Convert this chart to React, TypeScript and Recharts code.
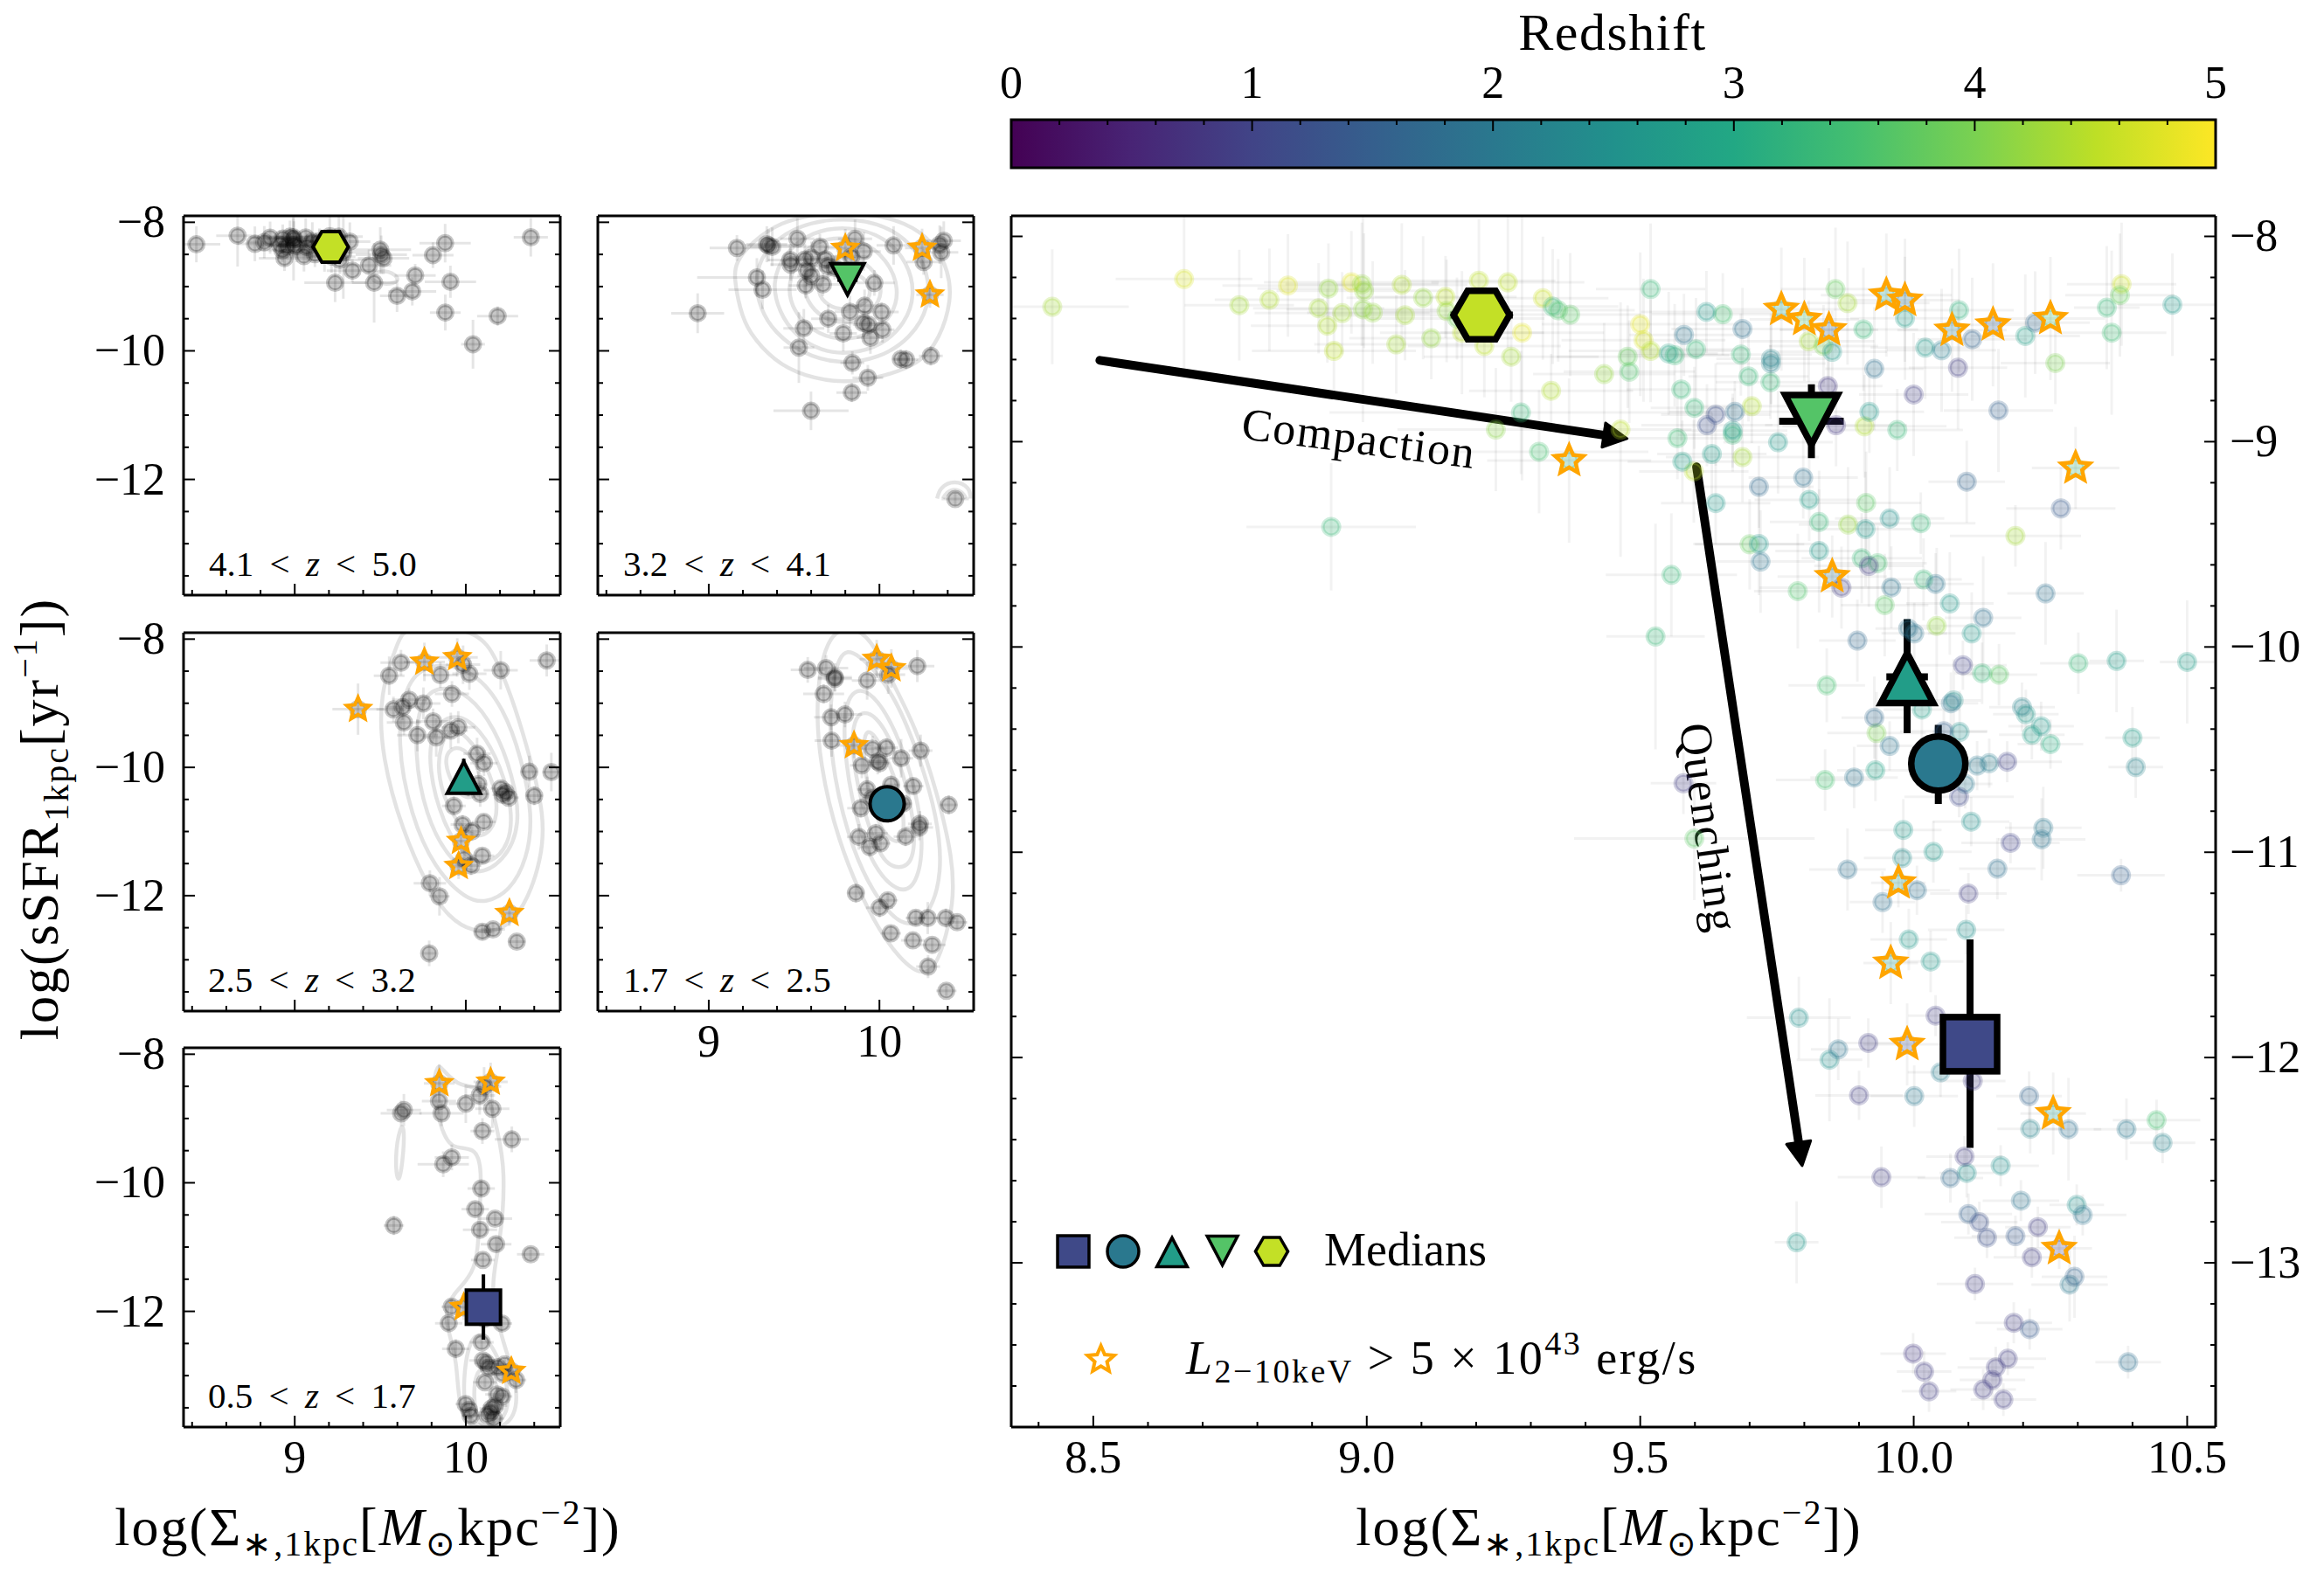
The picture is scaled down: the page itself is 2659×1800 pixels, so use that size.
import { ScatterChart, Scatter, XAxis, YAxis, ErrorBar, ReferenceLine, ReferenceArea } from 'recharts';

const W = 2659;
const H = 1800;
const SERIF = '"Liberation Serif", serif';

// x, y, redshift, x error, y error. One list per redshift bin
const binA = [
  [8.425, -8.343, 4.3, 0.14, 0.28], [8.666, -8.208, 4.7, 0.125, 0.48], [8.767, -8.335, 4.3, 0.1, 0.27],
  [8.822, -8.309, 4.4, 0.1, 0.25], [8.856, -8.239, 4.75, 0.12, 0.25], [8.93, -8.254, 4.2, 0.13, 0.22],
  [8.912, -8.35, 4.3, 0.12, 0.22], [8.928, -8.435, 4.4, 0.14, 0.18], [8.955, -8.374, 4.3, 0.16, 0.2],
  [8.94, -8.558, 4.5, 0.15, 0.2], [8.972, -8.224, 4.8, 0.16, 0.25], [8.991, -8.233, 4.2, 0.14, 0.3],
  [8.995, -8.265, 4.2, 0.16, 0.28], [8.993, -8.355, 4.15, 0.14, 0.55], [9.011, -8.371, 4.2, 0.12, 0.25],
  [9.064, -8.236, 4.4, 0.12, 0.3], [9.07, -8.384, 4.3, 0.16, 0.22], [9.054, -8.526, 4.3, 0.15, 0.24],
  [9.103, -8.299, 4.2, 0.14, 0.3], [9.118, -8.496, 4.2, 0.15, 0.2], [9.144, -8.295, 4.5, 0.13, 0.2],
  [9.146, -8.363, 4.2, 0.12, 0.25], [9.205, -8.216, 4.5, 0.14, 0.3], [9.258, -8.224, 4.5, 0.14, 0.32],
  [9.174, -8.469, 4.5, 0.15, 0.3], [9.215, -8.534, 4.5, 0.14, 0.25], [9.264, -8.586, 4.3, 0.16, 0.22],
  [9.284, -8.469, 4.8, 0.15, 0.72], [9.322, -8.301, 4.6, 0.12, 0.3], [9.337, -8.752, 4.4, 0.15, 0.18],
  [9.236, -8.941, 4.1, 0.18, 0.3], [9.464, -8.941, 4.5, 0.13, 0.62], [9.434, -8.671, 4.2, 0.13, 0.25],
  [9.5, -8.428, 4.8, 0.18, 0.35], [9.506, -8.506, 4.7, 0.15, 0.3], [9.519, -8.558, 4.4, 0.15, 0.25],
  [9.598, -9.145, 4.5, 0.1, 0.25], [9.704, -8.827, 4.4, 0.12, 0.18], [9.687, -9.075, 4.3, 0.14, 0.22],
  [9.808, -8.511, 4.3, 0.12, 0.2], [9.88, -9.404, 4.2, 0.09, 0.28], [9.91, -8.925, 4.4, 0.15, 0.25],
  [9.879, -8.325, 4.3, 0.15, 0.3], [10.042, -9.897, 4.2, 0.07, 0.38], [10.186, -9.459, 4.3, 0.12, 0.15],
  [10.38, -8.233, 4.6, 0.1, 0.3],
];

const binB = [
  [8.935, -9.415, 3.3, 0.155, 0.31], [9.165, -8.4, 3.9, 0.16, 0.2], [9.34, -8.342, 3.3, 0.12, 0.28],
  [9.35, -8.36, 3.6, 0.14, 0.25], [9.372, -8.381, 3.7, 0.13, 0.3], [9.315, -9.049, 3.5, 0.2, 0.3],
  [9.282, -8.858, 3.3, 0.35, 0.3], [9.48, -8.659, 3.6, 0.12, 0.25], [9.477, -8.586, 3.8, 0.13, 0.25],
  [9.519, -8.257, 3.3, 0.1, 0.32], [9.563, -8.579, 3.3, 0.1, 0.25], [9.602, -8.55, 3.3, 0.1, 0.25],
  [9.575, -8.746, 3.3, 0.1, 0.25], [9.599, -8.835, 3.3, 0.08, 0.2], [9.568, -8.983, 3.4, 0.1, 0.2],
  [9.651, -8.379, 3.5, 0.13, 0.2], [9.684, -8.576, 3.3, 0.13, 0.2], [9.698, -8.682, 3.3, 0.11, 0.22],
  [9.738, -8.71, 3.3, 0.1, 0.18], [9.669, -8.966, 3.3, 0.1, 0.18], [9.557, -9.649, 3.3, 0.12, 0.3],
  [9.528, -9.949, 3.3, 0.09, 0.55], [9.788, -9.728, 3.6, 0.08, 0.28], [9.827, -9.391, 3.3, 0.09, 0.25],
  [9.913, -9.298, 3.7, 0.1, 0.25], [9.7, -9.5, 3.8, 0.1, 0.22], [9.905, -9.568, 3.3, 0.11, 0.22],
  [9.934, -9.592, 3.5, 0.09, 0.18], [9.947, -9.796, 3.7, 0.08, 0.25], [10.013, -9.397, 3.3, 0.1, 0.15],
  [10.018, -9.671, 3.3, 0.07, 0.2], [10.125, -10.128, 3.3, 0.05, 0.15], [10.156, -10.135, 3.7, 0.07, 0.15],
  [9.841, -10.187, 3.5, 0.07, 0.18], [10.301, -10.079, 3.3, 0.07, 0.15], [9.932, -10.419, 4.0, 0.09, 0.2],
  [9.838, -10.648, 3.5, 0.09, 0.15], [9.599, -10.933, 3.7, 0.22, 0.3], [10.444, -12.305, 3.5, 0.08, 0.1],
  [9.857, -8.257, 3.8, 0.1, 0.3], [10.083, -8.36, 3.2, 0.1, 0.3], [9.908, -8.453, 3.3, 0.1, 0.3],
  [9.97, -8.943, 3.3, 0.12, 0.2], [10.259, -8.617, 4.0, 0.1, 0.2], [10.353, -8.347, 3.3, 0.06, 0.3],
  [10.377, -8.286, 3.8, 0.1, 0.3], [10.362, -8.469, 3.4, 0.1, 0.4], [9.835, -8.534, 4.0, 0.1, 0.2],
  [9.8, -8.404, 3.6, 0.1, 0.3], [10.25, -8.4, 3.5, 0.1, 0.3], [10.296, -9.128, 3.3, 0.08, 0.2],
];

const binC = [
  [9.621, -8.368, 2.6, 0.12, 0.2], [9.552, -8.57, 2.9, 0.09, 0.3], [9.851, -8.562, 2.6, 0.1, 0.2],
  [10.021, -8.542, 2.6, 0.1, 0.25], [9.984, -8.399, 2.7, 0.1, 0.3], [10.204, -8.485, 2.8, 0.1, 0.3],
  [10.473, -8.333, 2.6, 0.1, 0.25], [9.919, -8.855, 2.6, 0.1, 0.2], [9.669, -8.946, 2.7, 0.1, 0.18],
  [9.631, -9.06, 2.7, 0.1, 0.2], [9.577, -9.097, 2.8, 0.1, 0.2], [9.752, -9.003, 2.6, 0.1, 0.25],
  [9.638, -9.299, 2.6, 0.1, 0.2], [9.809, -9.283, 2.7, 0.1, 0.2], [9.717, -9.498, 2.6, 0.12, 0.25],
  [9.827, -9.532, 2.6, 0.08, 0.3], [9.912, -9.426, 2.6, 0.1, 0.28], [9.956, -9.374, 2.5, 0.1, 0.25],
  [10.066, -9.788, 2.6, 0.08, 0.25], [10.106, -9.934, 2.6, 0.08, 0.2], [10.371, -10.068, 2.7, 0.05, 0.25],
  [10.5, -10.073, 2.7, 0.05, 0.3], [10.4, -10.442, 2.7, 0.05, 0.15], [10.084, -10.414, 2.5, 0.05, 0.2],
  [10.073, -10.26, 2.5, 0.05, 0.2], [10.205, -10.328, 2.6, 0.06, 0.12], [10.216, -10.428, 2.8, 0.06, 0.12],
  [10.233, -10.386, 2.6, 0.06, 0.12], [10.25, -10.473, 3.1, 0.06, 0.12], [9.93, -10.601, 2.9, 0.07, 0.15],
  [9.981, -10.891, 2.6, 0.07, 0.15], [10.105, -10.851, 2.5, 0.07, 0.12], [10.036, -10.998, 2.6, 0.07, 0.15],
  [10.096, -11.378, 2.5, 0.07, 0.12], [10.031, -11.532, 2.6, 0.06, 0.15], [9.991, -11.425, 2.6, 0.07, 0.15],
  [9.79, -11.806, 2.5, 0.095, 0.2], [9.846, -12.011, 2.5, 0.06, 0.3], [10.097, -12.562, 2.5, 0.05, 0.12],
  [10.159, -12.527, 2.5, 0.07, 0.1], [10.298, -12.718, 2.5, 0.05, 0.1], [9.786, -12.9, 2.6, 0.04, 0.2],
  [10.015, -10.305, 2.8, 0.07, 0.15], [9.37, -9.092, 3.0, 0.15, 0.4], [9.758, -8.355, 3.0, 0.12, 0.3],
  [9.95, -8.286, 2.8, 0.12, 0.3], [9.972, -11.149, 2.8, 0.05, 0.12], [9.958, -11.54, 2.8, 0.05, 0.2],
  [10.255, -12.273, 2.8, 0.06, 0.2],
];

const binD = [
  [9.58, -8.48, 1.9, 0.1, 0.2], [9.687, -8.451, 1.8, 0.13, 0.2], [9.739, -8.596, 2.2, 0.1, 0.22],
  [9.739, -8.619, 2.2, 0.1, 0.2], [9.673, -8.855, 1.8, 0.12, 0.15], [9.717, -9.22, 1.7, 0.1, 0.2],
  [9.798, -9.175, 1.8, 0.1, 0.2], [9.72, -9.584, 1.9, 0.1, 0.25], [9.928, -8.645, 1.8, 0.09, 0.3],
  [10.051, -8.555, 2.1, 0.1, 0.3], [10.222, -8.42, 1.7, 0.1, 0.25], [9.959, -9.71, 1.9, 0.08, 0.2],
  [10.04, -9.693, 1.9, 0.07, 0.15], [10.127, -9.858, 1.8, 0.07, 0.3], [10.241, -9.739, 1.8, 0.07, 0.25],
  [9.897, -9.969, 1.7, 0.07, 0.2], [9.99, -9.91, 1.9, 0.06, 0.2], [10.001, -9.934, 1.9, 0.06, 0.15],
  [9.928, -10.344, 1.7, 0.06, 0.2], [10.068, -10.274, 1.9, 0.05, 0.15], [10.198, -10.293, 2.2, 0.06, 0.12],
  [9.891, -10.636, 1.9, 0.08, 0.15], [10.406, -10.585, 2.2, 0.05, 0.15], [10.237, -10.881, 2.0, 0.07, 0.2],
  [10.234, -10.937, 1.9, 0.08, 0.2], [9.879, -11.084, 1.8, 0.07, 0.2], [9.979, -11.028, 2.4, 0.07, 0.15],
  [10.153, -11.08, 1.8, 0.07, 0.15], [10.006, -11.185, 1.8, 0.06, 0.12], [9.943, -11.243, 1.8, 0.06, 0.15],
  [9.956, -10.482, 1.9, 0.06, 0.12], [10.116, -10.578, 2.0, 0.05, 0.12], [10.138, -10.566, 2.1, 0.05, 0.12],
  [10.094, -10.667, 2.0, 0.05, 0.12], [9.862, -11.96, 1.9, 0.05, 0.15], [10.049, -12.072, 2.1, 0.06, 0.12],
  [10.001, -12.188, 2.0, 0.08, 0.15], [10.213, -12.347, 2.2, 0.06, 0.12], [10.283, -12.349, 1.8, 0.06, 0.25],
  [10.389, -12.349, 2.0, 0.06, 0.15], [10.455, -12.415, 2.2, 0.06, 0.1], [10.067, -12.587, 1.7, 0.06, 0.12],
  [10.196, -12.697, 1.9, 0.07, 0.1], [10.309, -12.767, 1.9, 0.08, 0.1], [10.285, -13.106, 2.0, 0.07, 0.18],
  [10.392, -13.484, 1.8, 0.06, 0.08], [9.851, -9.657, 1.9, 0.1, 0.2], [9.984, -8.311, 2.0, 0.1, 0.3],
  [10.07, -8.457, 2.1, 0.1, 0.3],
];

const binE = [
  [9.579, -10.664, 0.9, 0.06, 0.15], [9.843, -8.729, 0.8, 0.1, 0.2], [9.858, -8.92, 0.8, 0.13, 0.2],
  [9.638, -8.868, 1.2, 0.1, 0.25], [9.622, -8.92, 1.2, 0.12, 0.2], [10.0, -8.77, 0.9, 0.1, 0.3],
  [10.081, -8.64, 0.9, 0.09, 0.3], [10.155, -8.848, 1.5, 0.1, 0.3], [10.097, -9.195, 1.6, 0.07, 0.2],
  [10.269, -9.325, 1.4, 0.1, 0.2], [9.918, -9.605, 0.9, 0.1, 0.2], [9.868, -9.711, 0.9, 0.15, 0.2],
  [10.09, -10.089, 1.0, 0.08, 0.12], [10.055, -10.41, 1.5, 0.08, 0.1], [10.171, -10.559, 1.0, 0.1, 0.1],
  [10.083, -10.73, 1.1, 0.1, 0.1], [10.177, -10.954, 1.0, 0.09, 0.1], [10.379, -11.112, 1.5, 0.08, 0.08],
  [10.1, -11.201, 0.9, 0.07, 0.1], [10.04, -11.796, 0.9, 0.05, 0.1], [9.917, -11.929, 0.9, 0.06, 0.12],
  [9.9, -12.184, 0.9, 0.08, 0.12], [10.211, -12.188, 1.6, 0.06, 0.12], [10.108, -12.114, 0.9, 0.06, 0.1],
  [9.941, -12.583, 0.9, 0.08, 0.15], [10.093, -12.482, 0.9, 0.07, 0.1], [10.1, -12.762, 1.5, 0.08, 0.1],
  [10.12, -12.802, 1.2, 0.07, 0.1], [10.134, -12.877, 1.2, 0.06, 0.1], [10.227, -12.826, 0.9, 0.06, 0.1],
  [10.186, -12.87, 1.4, 0.08, 0.1], [10.216, -12.973, 0.9, 0.07, 0.1], [10.112, -13.103, 0.9, 0.07, 0.08],
  [10.294, -13.068, 1.6, 0.06, 0.2], [10.183, -13.292, 0.9, 0.07, 0.1], [10.212, -13.323, 1.4, 0.06, 0.1],
  [9.999, -13.442, 0.8, 0.06, 0.1], [10.019, -13.53, 0.9, 0.05, 0.1], [10.028, -13.626, 0.9, 0.05, 0.1],
  [10.172, -13.467, 0.9, 0.07, 0.08], [10.15, -13.509, 0.9, 0.07, 0.1], [10.144, -13.57, 0.9, 0.06, 0.1],
  [10.127, -13.617, 0.9, 0.06, 0.1], [10.164, -13.666, 0.9, 0.06, 0.08], [9.845, -8.455, 1.6, 0.09, 0.3],
  [10.145, -8.431, 1.5, 0.1, 0.3], [9.988, -11.936, 1.2, 0.08, 0.2], [10.266, -12.93, 1.0, 0.06, 0.1],
  [10.107, -8.501, 1.6, 0.1, 0.3],
];

// X-ray bright sources
const starX = [9.37, 9.758, 9.8, 9.845, 9.95, 9.984, 10.07, 10.145, 10.25, 10.296, 9.851, 9.972, 9.958, 9.988, 10.255, 10.266];
const starY = [-9.092, -8.355, -8.404, -8.455, -8.286, -8.311, -8.457, -8.431, -8.4, -9.128, -9.657, -11.149, -11.54, -11.936, -12.273, -12.93];
const starZ = [3.0, 3.0, 3.5, 1.6, 2.8, 2.0, 2.1, 1.5, 3.5, 3.3, 1.9, 2.8, 2.8, 1.2, 2.8, 1.0];

// medians per bin, low z first
const medianKinds = ['square', 'circle', 'triangle', 'invTriangle', 'hexagon'];
const medianX = [10.103, 10.045, 9.988, 9.813, 9.21];
const medianY = [-11.935, -10.568, -10.145, -8.9, -8.383];
const medianZ = [1.1, 2.0, 2.75, 3.65, 4.55];
const medianXErr = [0.04, 0.03, 0.038, 0.059, 0.057];
const medianYLow = [0.505, 0.197, 0.275, 0.18, 0.03];
const medianYHigh = [0.51, 0.188, 0.28, 0.18, 0.03];

const compactionArrow = [{ x: 8.512, y: -8.604 }, { x: 9.476, y: -8.985 }];
const quenchingArrow = [{ x: 9.603, y: -9.123 }, { x: 9.796, y: -12.527 }];

// density contours drawn by eye
const contoursA = [
  [[9.43, -8.829], [9.527, -8.725], [9.613, -8.852], [9.591, -8.965], [9.473, -8.951]],
];
const contoursB = [
  [[9.148, -8.854], [9.182, -9.352], [9.233, -9.714], [9.386, -10.167], [9.556, -10.394], [9.794, -10.507], [9.998, -10.417], [10.236, -10.213], [10.355, -9.805], [10.423, -9.216], [10.406, -8.763], [10.321, -8.31], [10.151, -7.993], [9.93, -7.857], [9.641, -7.857], [9.42, -7.993], [9.25, -8.31], [9.157, -8.627]],
  [[9.267, -8.899], [9.301, -9.352], [9.386, -9.714], [9.539, -10.032], [9.76, -10.213], [9.998, -10.122], [10.185, -9.805], [10.296, -9.307], [10.287, -8.763], [10.185, -8.31], [9.998, -7.993], [9.726, -7.925], [9.488, -8.084], [9.318, -8.446]],
  [[9.369, -8.944], [9.412, -9.397], [9.505, -9.76], [9.658, -10.009], [9.828, -10.054], [10.015, -9.918], [10.151, -9.579], [10.211, -9.125], [10.168, -8.627], [10.032, -8.22], [9.828, -8.061], [9.607, -8.129], [9.437, -8.491]],
  [[9.454, -8.99], [9.497, -9.397], [9.607, -9.692], [9.76, -9.85], [9.947, -9.76], [10.083, -9.443], [10.117, -9.035], [10.049, -8.582], [9.896, -8.265], [9.692, -8.22], [9.539, -8.446]],
  [[9.548, -8.99], [9.59, -9.307], [9.692, -9.533], [9.828, -9.579], [9.964, -9.397], [10.024, -9.08], [9.981, -8.763], [9.862, -8.537], [9.709, -8.514], [9.59, -8.718]],
  [[9.633, -9.08], [9.692, -9.307], [9.811, -9.375], [9.93, -9.261], [9.956, -9.035], [9.896, -8.808], [9.76, -8.74], [9.658, -8.876]],
];
const arcsB = [
  [[10.338, -12.297], [10.364, -12.138], [10.44, -12.047], [10.517, -12.138], [10.534, -12.297]],
  [[10.372, -12.297], [10.398, -12.206], [10.44, -12.161], [10.483, -12.206], [10.508, -12.297]],
];
const contoursC = [
  [[9.611, -7.991], [9.492, -8.851], [9.509, -9.848], [9.628, -10.981], [9.781, -11.887], [9.9, -12.34], [10.036, -12.566], [10.206, -12.566], [10.342, -12.204], [10.444, -11.434], [10.461, -10.754], [10.376, -9.848], [10.291, -9.078], [10.189, -8.353], [10.07, -7.81], [9.645, -7.81]],
  [[9.645, -8.625], [9.594, -9.622], [9.679, -10.754], [9.815, -11.569], [10.002, -12.068], [10.121, -12.113], [10.257, -11.932], [10.359, -11.434], [10.393, -10.754], [10.325, -9.848], [10.223, -9.078], [10.053, -8.489], [9.815, -8.353]],
  [[9.73, -8.942], [9.696, -9.757], [9.764, -10.754], [9.9, -11.434], [10.053, -11.705], [10.223, -11.479], [10.325, -10.89], [10.274, -10.12], [10.172, -9.395], [10.019, -8.851], [9.849, -8.716]],
  [[9.798, -9.395], [9.781, -10.029], [9.866, -10.89], [10.002, -11.434], [10.138, -11.524], [10.257, -11.207], [10.274, -10.663], [10.206, -9.984], [10.087, -9.395], [9.934, -9.123]],
  [[9.849, -9.622], [9.832, -10.165], [9.917, -10.754], [10.036, -11.116], [10.155, -11.026], [10.198, -10.573], [10.121, -9.939], [10.002, -9.486], [9.917, -9.395]],
  [[9.875, -9.916], [9.917, -10.256], [10.002, -10.528], [10.087, -10.392], [10.087, -10.029], [9.985, -9.667], [9.9, -9.712]],
];
const contoursD = [
  [[9.692, -7.81], [9.624, -8.942], [9.65, -9.939], [9.752, -11.116], [9.93, -12.249], [10.117, -13.019], [10.287, -13.313], [10.372, -12.838], [10.436, -12.113], [10.431, -11.434], [10.338, -10.392], [10.219, -9.395], [10.032, -8.444], [9.913, -7.81]],
  [[9.76, -8.172], [9.7, -9.078], [9.726, -10.12], [9.845, -11.343], [9.998, -12.113], [10.151, -12.521], [10.287, -12.34], [10.372, -11.66], [10.338, -10.754], [10.236, -9.848], [10.083, -8.806], [9.862, -8.172]],
  [[9.802, -8.851], [9.785, -9.622], [9.853, -10.754], [9.964, -11.57], [10.117, -11.977], [10.219, -11.841], [10.261, -11.207], [10.219, -10.392], [10.1, -9.395], [9.93, -8.716]],
  [[9.845, -9.123], [9.836, -9.848], [9.913, -10.754], [10.015, -11.479], [10.117, -11.592], [10.202, -11.479], [10.21, -10.845], [10.117, -9.848], [9.98, -9.123]],
  [[9.904, -9.486], [9.913, -10.12], [9.98, -10.845], [10.083, -11.207], [10.151, -11.116], [10.134, -10.482], [10.032, -9.757], [9.947, -9.395]],
];
const contoursE = [
  [[9.618, -9.085], [9.583, -9.622], [9.604, -10.079], [9.632, -9.676], [9.643, -9.138]],
  [[9.833, -8.144], [9.804, -8.547], [9.852, -9.138], [9.911, -9.488], [10.057, -9.434], [10.096, -9.783], [10.077, -10.589], [10.067, -11.395], [9.921, -11.718], [9.862, -12.094], [9.96, -12.739], [9.95, -13.867], [10.262, -13.867], [10.321, -13.276], [10.214, -12.47], [10.136, -11.61], [10.204, -10.965], [10.233, -9.783], [10.184, -9.192], [10.126, -8.494], [9.96, -8.521], [9.862, -8.225]],
  [[9.979, -13.007], [9.999, -13.813], [10.214, -13.813], [10.272, -13.276], [10.155, -12.47], [10.038, -12.255]],
  [[10.038, -13.007], [10.057, -13.813], [10.175, -13.813], [10.214, -13.276], [10.116, -12.792]],
];

const mainXTicks = [8.4, 8.5, 8.6, 8.7, 8.8, 8.9, 9, 9.1, 9.2, 9.3, 9.4, 9.5, 9.6, 9.7, 9.8, 9.9, 10, 10.1, 10.2, 10.3, 10.4, 10.5];
const mainXMajor = [8.5, 9, 9.5, 10, 10.5];
const mainYTicks = [-8, -8.2, -8.4, -8.6, -8.8, -9, -9.2, -9.4, -9.6, -9.8, -10, -10.2, -10.4, -10.6, -10.8, -11, -11.2, -11.4, -11.6, -11.8, -12, -12.2, -12.4, -12.6, -12.8, -13, -13.2, -13.4, -13.6];
const mainYMajor = [-8, -9, -10, -11, -12, -13];
const smallXTicks = [8.4, 8.6, 8.8, 9, 9.2, 9.4, 9.6, 9.8, 10, 10.2, 10.4];
const smallXMajor = [9, 10];
const smallYTicks = [-8, -8.5, -9, -9.5, -10, -10.5, -11, -11.5, -12, -12.5, -13, -13.5];
const smallYMajor = [-8, -10, -12];
const barTicks = [0, 0.2, 0.4, 0.6, 0.8, 1, 1.2, 1.4, 1.6, 1.8, 2, 2.2, 2.4, 2.6, 2.8, 3, 3.2, 3.4, 3.6, 3.8, 4, 4.2, 4.4, 4.6, 4.8, 5];
const barMajor = [0, 1, 2, 3, 4, 5];
const barCorners = [{ x: 0, y: 0 }, { x: 5, y: 1 }];

const xDomain = [8.35, 10.552];
const yDomain = [-13.8, -7.9];

const VIRIDIS = ['#440154', '#482475', '#414487', '#355f8d', '#2a788e', '#21918c', '#22a884', '#44bf70', '#7ad151', '#bddf26', '#fde725'];

function viridis(z: number) {
  const t = Math.min(0.9999, Math.max(0, z / 5)) * 10;
  const i = Math.floor(t);
  const a = VIRIDIS[i];
  const b = VIRIDIS[i + 1];
  const mix = (s: number) => {
    const p = parseInt(a.slice(s, s + 2), 16);
    const q = parseInt(b.slice(s, s + 2), 16);
    return Math.round(p + (q - p) * (t - i));
  };
  return `rgb(${mix(1)},${mix(3)},${mix(5)})`;
}

// error bars are not clipped by the chart, so they get cut at the frame here
const toRows = (rows: number[][]) =>
  rows.map(([x, y, z, xe, ye]) => ({
    x,
    y,
    z,
    xe: [Math.min(xe, x - xDomain[0]), Math.min(xe, xDomain[1] - x)],
    ye: [Math.min(ye, y - yDomain[0]), Math.min(ye, yDomain[1] - y)],
  }));
const toXY = (pts: number[][]) => pts.map(([x, y]) => ({ x, y }));
const starRows = starX.map((x, i) => ({ x, y: starY[i], z: starZ[i] }));
const medianRows = medianKinds.map((kind, i) => ({
  kind,
  x: medianX[i],
  y: medianY[i],
  z: medianZ[i],
  xe: medianXErr[i],
  ye: [medianYLow[i], medianYHigh[i]],
}));

function starPath(cx: number, cy: number, R: number) {
  const pts: string[] = [];
  for (let i = 0; i < 10; i++) {
    const r = i % 2 === 0 ? R : R * 0.46;
    const a = (Math.PI / 5) * i - Math.PI / 2;
    pts.push(`${cx + r * Math.cos(a)},${cy + r * Math.sin(a)}`);
  }
  return `M${pts.join('L')}Z`;
}

function MedianMarker({ kind, cx, cy, z, scale, sw }: any) {
  const common = { fill: viridis(z), stroke: '#000', strokeWidth: sw };
  const s = scale;
  if (kind === 'square') return <rect x={cx - 31 * s} y={cy - 31 * s} width={62 * s} height={62 * s} {...common} />;
  if (kind === 'circle') return <circle cx={cx} cy={cy} r={31 * s} {...common} />;
  const shapes: any = {
    triangle: [[0, -27], [30, 30], [-30, 30]],
    invTriangle: [[-30, -30], [30, -30], [0, 27]],
    hexagon: [[-32, 0], [-16, -27.7], [16, -27.7], [32, 0], [16, 27.7], [-16, 27.7]],
  };
  const pts = shapes[kind].map(([a, b]: number[]) => `${cx + a * s},${cy + b * s}`).join(' ');
  return <polygon points={pts} {...common} />;
}

// inward ticks on every side, label only on majors when asked
function makeTick(side: string, major: number[], labels: boolean, fmt: (v: number) => string, fontSize = 52) {
  return (props: any) => {
    const { x, y, payload } = props;
    const isMajor = major.includes(payload.value);
    const len = isMajor ? 13 : 6;
    const line = {
      bottom: [x, y, x, y - len],
      top: [x, y, x, y + len],
      left: [x, y, x + len, y],
      right: [x, y, x - len, y],
    }[side] as number[];
    let label = null;
    if (labels && isMajor) {
      const t = fmt(payload.value);
      const common = { fontFamily: SERIF, fontSize, fill: '#000' };
      if (side === 'bottom') label = <text x={x} y={y + 52} textAnchor="middle" {...common}>{t}</text>;
      if (side === 'top') label = <text x={x} y={y - 25} textAnchor="middle" {...common}>{t}</text>;
      if (side === 'left') label = <text x={x - 21} y={y + 17} textAnchor="end" {...common}>{t}</text>;
      if (side === 'right') label = <text x={x + 16} y={y + 17} textAnchor="start" {...common}>{t}</text>;
    }
    return (
      <g>
        <line x1={line[0]} y1={line[1]} x2={line[2]} y2={line[3]} stroke="#000" strokeWidth={2} />
        {label}
      </g>
    );
  };
}

const fmtInt = (v: number) => String(v).replace('-', '\u2212');
const fmtOne = (v: number) => v.toFixed(1);
const frame = { stroke: '#000', strokeWidth: 3 };
const axisBase: any = { tickLine: false, tickSize: 0, tickMargin: 0, interval: 0, axisLine: frame, type: 'number', allowDataOverflow: true };

function axes(xTicks: number[], xMajor: number[], yTicks: number[], yMajor: number[], opts: any) {
  return [
    <XAxis key="xb" {...axisBase} dataKey="x" domain={xDomain} ticks={xTicks} height={1} orientation="bottom"
      tick={makeTick('bottom', xMajor, !!opts.xLabels, opts.xFmt)} />,
    <XAxis key="xt" {...axisBase} xAxisId="t" domain={xDomain} ticks={xTicks} height={1} orientation="top"
      tick={makeTick('top', xMajor, false, opts.xFmt)} />,
    <YAxis key="yl" {...axisBase} dataKey="y" domain={yDomain} ticks={yTicks} width={1} orientation={opts.yRight ? 'right' : 'left'}
      tick={makeTick(opts.yRight ? 'right' : 'left', yMajor, !!opts.yLabels, fmtInt)} />,
    <YAxis key="yr" {...axisBase} yAxisId="o" domain={yDomain} ticks={yTicks} width={1} orientation={opts.yRight ? 'left' : 'right'}
      tick={makeTick(opts.yRight ? 'left' : 'right', yMajor, false, fmtInt)} />,
  ];
}

function Layer({ left, right, top, bottom, children }: any) {
  return (
    <div style={{ position: 'absolute', left: 0, top: 0 }}>
      <ScatterChart width={W} height={H} margin={{ left: left - 1, top: top - 1, right: W - right - 1, bottom: H - bottom - 1 }}>
        {children}
      </ScatterChart>
    </div>
  );
}

const contourLine = { stroke: 'rgba(0,0,0,0.11)', strokeWidth: 4.5 };
const noMark = () => <g />;

function SmallPanel({ box, rows, contours, arcs, median, label, labelPos, xLabels, yLabels, zMin, zMax }: any) {
  const stars = starRows.filter((s) => s.z >= zMin && s.z < zMax);
  return (
    <Layer {...box}>
      {axes(smallXTicks, smallXMajor, smallYTicks, smallYMajor, { xLabels, yLabels, xFmt: fmtInt })}
      {contours.map((c: number[][], i: number) => (
        <Scatter key={`c${i}`} data={toXY(c)} line={contourLine} lineType="joint" lineJointType="basisClosed" shape={noMark} isAnimationActive={false} />
      ))}
      {(arcs || []).map((c: number[][], i: number) => (
        <Scatter key={`a${i}`} data={toXY(c)} line={contourLine} lineType="joint" lineJointType="natural" shape={noMark} isAnimationActive={false} />
      ))}
      <Scatter
        data={toRows(rows)}
        isAnimationActive={false}
        shape={(p: any) => (
          <circle cx={p.cx} cy={p.cy} r={8.5} fill="#000" fillOpacity={0.22} stroke="#000" strokeOpacity={0.22} strokeWidth={4} />
        )}
      >
        <ErrorBar dataKey="xe" direction="x" width={0} stroke="rgba(0,0,0,0.1)" strokeWidth={3} isAnimationActive={false} />
        <ErrorBar dataKey="ye" direction="y" width={0} stroke="rgba(0,0,0,0.1)" strokeWidth={3} isAnimationActive={false} />
      </Scatter>
      <Scatter
        data={stars}
        isAnimationActive={false}
        shape={(p: any) => <path d={starPath(p.cx, p.cy, 13.5)} fill="none" stroke="#ffa500" strokeWidth={4} />}
      />
      <Scatter
        data={[median]}
        isAnimationActive={false}
        shape={(p: any) => <MedianMarker kind={median.kind} cx={p.cx} cy={p.cy} z={median.z} scale={0.63} sw={4} />}
      >
        <ErrorBar dataKey="xe" direction="x" width={0} stroke="#000" strokeWidth={4} isAnimationActive={false} />
        <ErrorBar dataKey="ye" direction="y" width={0} stroke="#000" strokeWidth={4} isAnimationActive={false} />
      </Scatter>
      <text x={labelPos[0]} y={labelPos[1]} fontFamily={SERIF} fontSize={41} wordSpacing={8}>
        {label[0]} &lt; <tspan fontStyle="italic">z</tspan> &lt; {label[1]}
      </text>
    </Layer>
  );
}

function Arrow(props: any) {
  const { x1, y1, x2, y2 } = props;
  const a = Math.atan2(y2 - y1, x2 - x1);
  const ux = Math.cos(a);
  const uy = Math.sin(a);
  const bx = x2 - ux * 24;
  const by = y2 - uy * 24;
  const hw = 14;
  return (
    <g>
      <line x1={x1} y1={y1} x2={bx} y2={by} stroke="#000" strokeWidth={10} strokeLinecap="round" />
      <polygon
        points={`${x2},${y2} ${bx - uy * hw - ux * 3},${by + ux * hw - uy * 3} ${bx + uy * hw - ux * 3},${by - ux * hw - uy * 3}`}
        fill="#000"
        stroke="#000"
        strokeWidth={3}
        strokeLinejoin="round"
      />
    </g>
  );
}

const allRows = [...binA, ...binB, ...binC, ...binD, ...binE];

function MainPanel() {
  return (
    <Layer left={1157} right={2535} top={247} bottom={1633}>
      {axes(mainXTicks, mainXMajor, mainYTicks, mainYMajor, { xLabels: true, yLabels: true, yRight: true, xFmt: fmtOne })}
      <Scatter
        data={toRows(allRows)}
        isAnimationActive={false}
        shape={(p: any) => {
          const c = viridis(p.payload.z);
          return <circle cx={p.cx} cy={p.cy} r={9.5} fill={c} fillOpacity={0.27} stroke={c} strokeOpacity={0.25} strokeWidth={4} />;
        }}
      >
        <ErrorBar dataKey="xe" direction="x" width={0} stroke="rgba(0,0,0,0.05)" strokeWidth={3} isAnimationActive={false} />
        <ErrorBar dataKey="ye" direction="y" width={0} stroke="rgba(0,0,0,0.05)" strokeWidth={3} isAnimationActive={false} />
      </Scatter>
      <Scatter
        data={starRows}
        isAnimationActive={false}
        shape={(p: any) => <path d={starPath(p.cx, p.cy, 17)} fill="none" stroke="#ffa500" strokeWidth={4.5} />}
      />
      <Scatter
        data={medianRows}
        isAnimationActive={false}
        shape={(p: any) => <MedianMarker kind={p.payload.kind} cx={p.cx} cy={p.cy} z={p.payload.z} scale={1} sw={7.5} />}
      >
        <ErrorBar dataKey="xe" direction="x" width={0} stroke="#000" strokeWidth={8} isAnimationActive={false} />
        <ErrorBar dataKey="ye" direction="y" width={0} stroke="#000" strokeWidth={8} isAnimationActive={false} />
      </Scatter>
      <ReferenceLine segment={compactionArrow} shape={Arrow} />
      <ReferenceLine segment={quenchingArrow} shape={Arrow} />
      <text transform="translate(1554,507) rotate(7.3)" textAnchor="middle" dominantBaseline="middle" fontFamily={SERIF} fontSize={52} letterSpacing={1.5}>
        Compaction
      </text>
      <text transform="translate(1950,948) rotate(82.2)" textAnchor="middle" dominantBaseline="middle" fontFamily={SERIF} fontSize={52} letterSpacing={1.5}>
        Quenching
      </text>
      {/* legend */}
      <MedianMarker kind="square" cx={1228} cy={1432} z={medianZ[0]} scale={0.58} sw={3.5} />
      <MedianMarker kind="circle" cx={1285} cy={1432} z={medianZ[1]} scale={0.58} sw={3.5} />
      <MedianMarker kind="triangle" cx={1341} cy={1432} z={medianZ[2]} scale={0.58} sw={3.5} />
      <MedianMarker kind="invTriangle" cx={1398.6} cy={1432} z={medianZ[3]} scale={0.58} sw={3.5} />
      <MedianMarker kind="hexagon" cx={1455} cy={1432} z={medianZ[4]} scale={0.58} sw={3.5} />
      <text x={1515} y={1448} fontFamily={SERIF} fontSize={54}>Medians</text>
      <path d={starPath(1259.6, 1556, 16)} fill="#fff" stroke="#ffa500" strokeWidth={4} />
      <text x={1357} y={1572} fontFamily={SERIF} fontSize={54} letterSpacing={2.5}>
        <tspan fontStyle="italic">L</tspan>
        <tspan dy={10} fontSize={38}>2{'\u2212'}10keV</tspan>
        <tspan dy={-10}> &gt; 5 × 10</tspan>
        <tspan dy={-22} fontSize={38}>43</tspan>
        <tspan dy={22}> erg/s</tspan>
      </text>
    </Layer>
  );
}

const barMargin = { left: 1157, top: 136, right: W - 2535, bottom: H - 192 };

// the bar goes in its own chart so that the ticks of the next one land on top of it
function ColorBar() {
  return (
    <>
      <div style={{ position: 'absolute', left: 0, top: 0 }}>
        <ScatterChart width={W} height={H} margin={barMargin}>
          <defs>
            <linearGradient id="viridisBar" x1="0" y1="0" x2="1" y2="0">
              {VIRIDIS.map((c, i) => (
                <stop key={c} offset={i / 10} stopColor={c} />
              ))}
            </linearGradient>
          </defs>
          <YAxis type="number" dataKey="y" hide domain={[0, 1]} width={0} />
          <XAxis {...axisBase} axisLine={false} dataKey="x" domain={[0, 5]} ticks={barTicks} height={1} orientation="top" tick={false} />
          <Scatter data={barCorners} shape={noMark} isAnimationActive={false} />
          <ReferenceArea x1={0} x2={5} y1={0} y2={1} ifOverflow="visible" fill="url(#viridisBar)" fillOpacity={1} stroke="#000" strokeWidth={3} />
        </ScatterChart>
      </div>
      <div style={{ position: 'absolute', left: 0, top: 0 }}>
        <ScatterChart width={W} height={H} margin={barMargin}>
          <YAxis type="number" dataKey="y" hide domain={[0, 1]} width={0} />
          <XAxis {...axisBase} axisLine={false} dataKey="x" domain={[0, 5]} ticks={barTicks} height={1} orientation="top"
            tick={makeTick('top', barMajor, true, fmtInt)} />
          <Scatter data={barCorners} shape={noMark} isAnimationActive={false} />
          <text x={1845} y={57} textAnchor="middle" fontFamily={SERIF} fontSize={60} letterSpacing={1.5}>Redshift</text>
        </ScatterChart>
      </div>
    </>
  );
}

function XLabel({ cx }: any) {
  return (
    <text x={cx} y={1768} textAnchor="middle" fontFamily={SERIF} fontSize={62} letterSpacing={2}>
      log(Σ
      <tspan dy={12} fontSize={40}>∗,1kpc</tspan>
      <tspan dy={-12}>[</tspan>
      <tspan fontStyle="italic">M</tspan>
      <tspan dy={12} fontSize={40}>⊙</tspan>
      <tspan dy={-12}>kpc</tspan>
      <tspan dy={-24} fontSize={40}>{'\u2212'}2</tspan>
      <tspan dy={24}>])</tspan>
    </text>
  );
}

export default function App() {
  return (
    <div style={{ position: 'absolute', left: 0, top: 0, width: W, height: H, background: '#fff', overflow: 'hidden' }}>
      <ColorBar />
      <SmallPanel box={{ left: 210, right: 641, top: 247, bottom: 681 }} rows={binA} contours={contoursA} median={medianRows[4]}
        label={['4.1', '5.0']} labelPos={[239, 659]} yLabels zMin={4.1} zMax={5.1} />
      <SmallPanel box={{ left: 684, right: 1114, top: 247, bottom: 681 }} rows={binB} contours={contoursB} arcs={arcsB} median={medianRows[3]}
        label={['3.2', '4.1']} labelPos={[713, 659]} zMin={3.2} zMax={4.1} />
      <SmallPanel box={{ left: 210, right: 641, top: 724, bottom: 1157 }} rows={binC} contours={contoursC} median={medianRows[2]}
        label={['2.5', '3.2']} labelPos={[238, 1135]} yLabels zMin={2.5} zMax={3.2} />
      <SmallPanel box={{ left: 684, right: 1114, top: 724, bottom: 1157 }} rows={binD} contours={contoursD} median={medianRows[1]}
        label={['1.7', '2.5']} labelPos={[713, 1135]} xLabels zMin={1.7} zMax={2.5} />
      <SmallPanel box={{ left: 210, right: 641, top: 1199, bottom: 1633 }} rows={binE} contours={contoursE} median={medianRows[0]}
        label={['0.5', '1.7']} labelPos={[238, 1611]} xLabels yLabels zMin={0.5} zMax={1.7} />
      <MainPanel />
      <svg width={W} height={H} style={{ position: 'absolute', left: 0, top: 0, pointerEvents: 'none' }}>
        <XLabel cx={421} />
        <XLabel cx={1841} />
        <text transform="translate(66,937) rotate(-90)" textAnchor="middle" fontFamily={SERIF} fontSize={62} letterSpacing={2}>
          log(sSFR
          <tspan dy={12} fontSize={40}>1kpc</tspan>
          <tspan dy={-12}>[yr</tspan>
          <tspan dy={-24} fontSize={40}>{'\u2212'}1</tspan>
          <tspan dy={24}>])</tspan>
        </text>
      </svg>
    </div>
  );
}
